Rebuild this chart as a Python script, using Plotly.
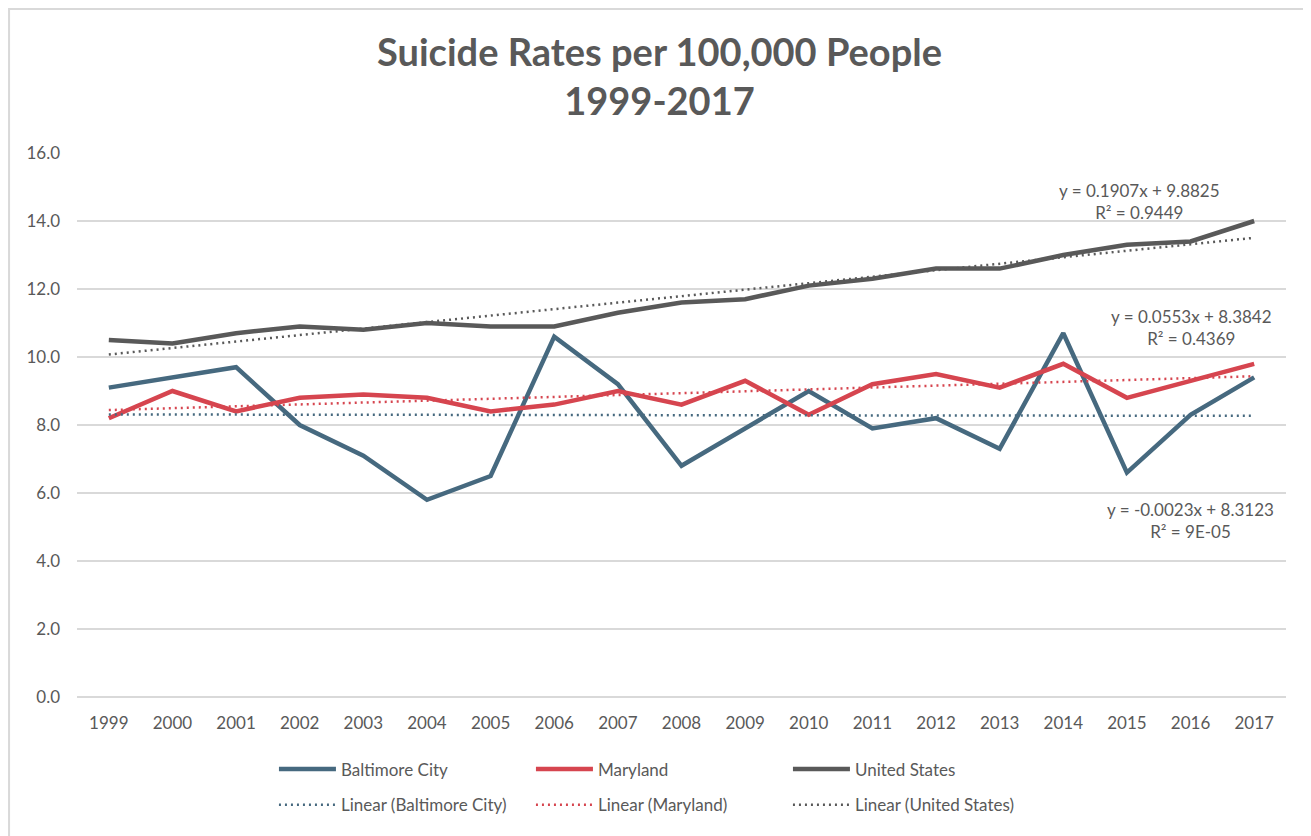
import numpy as np
import plotly.graph_objects as go

years = [str(y) for y in range(1999, 2018)]
baltimore = [9.1, 9.4, 9.7, 8.0, 7.1, 5.8, 6.5, 10.6, 9.2, 6.8, 7.9, 9.0, 7.9, 8.2, 7.3, 10.7, 6.6, 8.3, 9.4]
maryland = [8.2, 9.0, 8.4, 8.8, 8.9, 8.8, 8.4, 8.6, 9.0, 8.6, 9.3, 8.3, 9.2, 9.5, 9.1, 9.8, 8.8, 9.3, 9.8]
united_states = [10.5, 10.4, 10.7, 10.9, 10.8, 11.0, 10.9, 10.9, 11.3, 11.6, 11.7, 12.1, 12.3, 12.6, 12.6, 13.0, 13.3, 13.4, 14.0]

series_names = ["Baltimore City", "Maryland", "United States"]
series_values = [baltimore, maryland, united_states]
colors = ["#46697F", "#D6454F", "#595959"]
eq_labels = [
    "y = -0.0023x + 8.3123<br>R² = 9E-05",
    "y = 0.0553x + 8.3842<br>R² = 0.4369",
    "y = 0.1907x + 9.8825<br>R² = 0.9449",
]
eq_pos = [(0.921, 5.18), (0.922, 10.88), (0.879, 14.58)]

FONT = "Lato"
GRAY = "#595959"

fig = go.Figure()
idx = np.arange(1, len(years) + 1)

for name, vals, col in zip(series_names, series_values, colors):
    fig.add_trace(go.Scatter(x=years, y=vals, mode="lines", name=name,
                             line=dict(color=col, width=4.5), legend="legend"))

for name, vals, col in zip(series_names, series_values, colors):
    slope, intercept = np.polyfit(idx, vals, 1)
    trend = slope * idx + intercept
    fig.add_trace(go.Scatter(x=years, y=trend, mode="lines", name=f"Linear ({name})",
                             line=dict(color=col, width=2.5, dash="2px,4px"), legend="legend2"))

for txt, (ax, ay) in zip(eq_labels, eq_pos):
    fig.add_annotation(x=ax, xref="paper", y=ay, yref="y", text=txt, showarrow=False,
                       xanchor="center", yanchor="middle", align="center",
                       font=dict(family=FONT, size=17, color=GRAY))

# chart border
fig.add_shape(type="rect", xref="paper", yref="paper", x0=-0.0562, x1=1.0174, y0=-0.3, y1=1.2647,
              line=dict(color="#D9D9D9", width=2), fillcolor="rgba(0,0,0,0)", layer="below")

legend_common = dict(orientation="h", xanchor="left", yanchor="top", entrywidth=185,
                     itemwidth=57, font=dict(family=FONT, size=17, color=GRAY),
                     bgcolor="rgba(0,0,0,0)")

fig.update_layout(
    width=1303, height=828,
    margin=dict(l=69, r=25, t=145, b=139, autoexpand=False),
    paper_bgcolor="white", plot_bgcolor="white",
    title=dict(text="<b>Suicide Rates per 100,000 People<br>1999-2017</b>",
               x=0.5, xanchor="center", y=0.93, yanchor="middle", automargin=False,
               font=dict(family=FONT, size=38, color=GRAY)),
    font=dict(family=FONT, size=17, color=GRAY),
    xaxis=dict(type="category", range=[-0.5, 18.5], showgrid=False, showline=False,
               zeroline=False, ticks="", tickfont=dict(family=FONT, size=17, color=GRAY),
               ticklabelstandoff=14, automargin=False),
    yaxis=dict(range=[0, 16], dtick=2, tickformat=".1f", showgrid=True, gridcolor="#D9D9D9",
               gridwidth=1.5, zeroline=True, zerolinecolor="#D9D9D9", zerolinewidth=1.5,
               showline=False, ticks="", tickfont=dict(family=FONT, size=17, color=GRAY),
               ticklabelstandoff=16, automargin=False),
    legend=dict(x=0.1629, y=-0.1, **legend_common),
    legend2=dict(x=0.1629, y=-0.166, **legend_common),
)

fig.write_html("out.html")
